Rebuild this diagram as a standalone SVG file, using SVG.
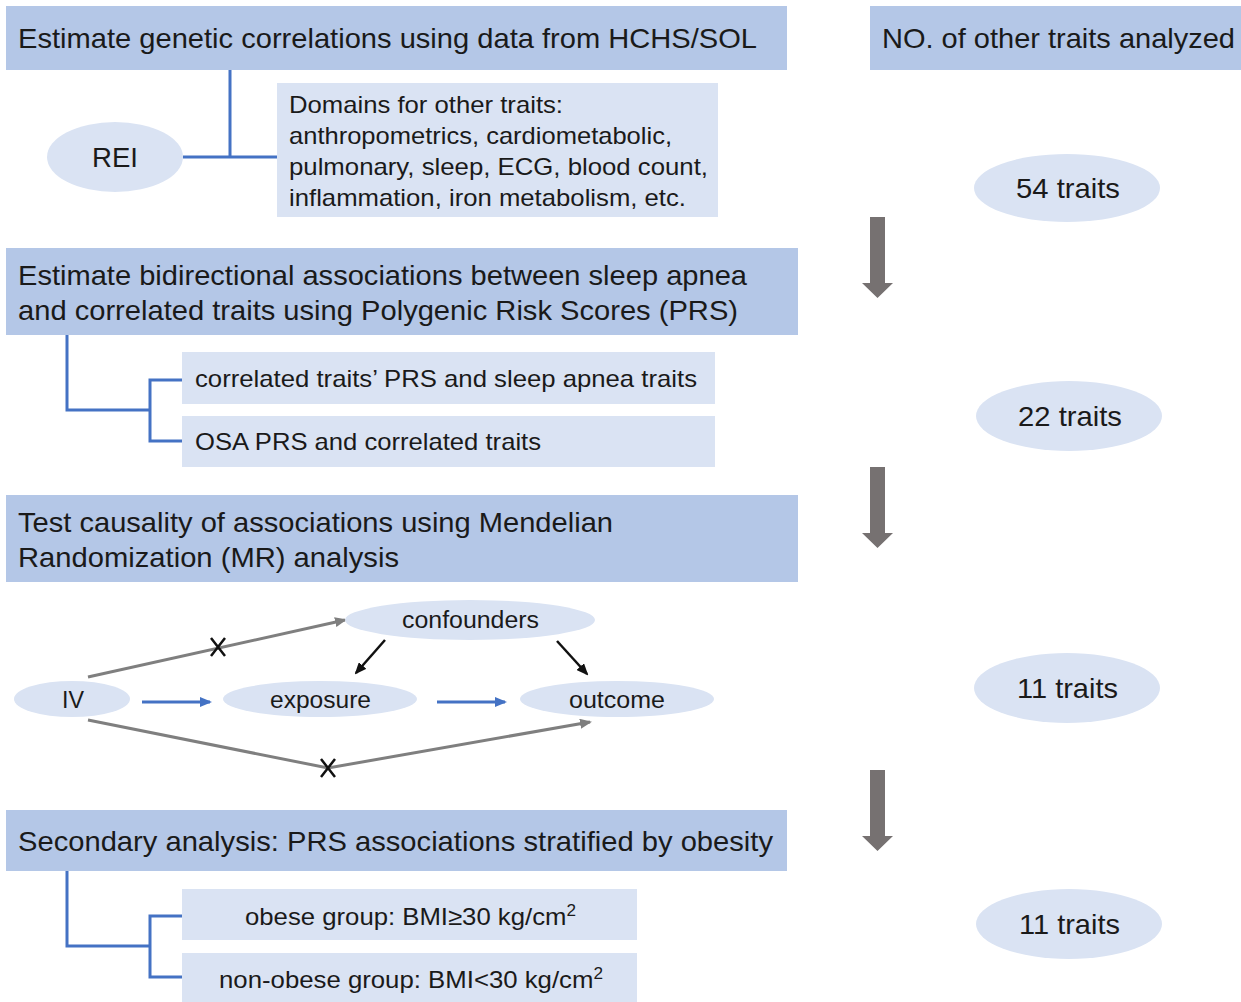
<svg xmlns="http://www.w3.org/2000/svg" width="1241" height="1002" viewBox="0 0 1241 1002">
<defs>
<style>
text{font-family:"Liberation Sans",Arial,sans-serif;fill:#1a1a1a}
.hdr{fill:#b4c7e7}
.sub{fill:#dae3f3}
.h{font-size:28px}
.s{font-size:24px}
.m{font-size:23px}
.blue{stroke:#4472c4;stroke-width:3;fill:none}
.gray{stroke:#7f7f7f;stroke-width:3;fill:none}
.blk{stroke:#111;stroke-width:2.5;fill:none}
.big{fill:#767171}
</style>
<marker id="ab" markerWidth="12" markerHeight="10" refX="10" refY="5" orient="auto" markerUnits="userSpaceOnUse"><path d="M0,0 L12,5 L0,10 z" fill="#4472c4"/></marker>
<marker id="ag" markerWidth="12" markerHeight="10" refX="10" refY="5" orient="auto" markerUnits="userSpaceOnUse"><path d="M0,0 L12,5 L0,10 z" fill="#7f7f7f"/></marker>
<marker id="ak" markerWidth="12" markerHeight="10" refX="10" refY="5" orient="auto" markerUnits="userSpaceOnUse"><path d="M0,0 L12,5 L0,10 z" fill="#111"/></marker>
</defs>
<rect width="1241" height="1002" fill="#fff"/>

<g id="connectors">
<path class="blue" d="M230,70 V157 M183,157 H277"/>
<path class="blue" d="M67,335 V410 H150 M182,380 H150 V441 H182"/>
<path class="blue" d="M67,871 V946 H150 M182,916 H150 V977 H182"/>
<line class="blue" x1="142" y1="702" x2="210" y2="702" marker-end="url(#ab)"/>
<line class="blue" x1="437" y1="702" x2="505" y2="702" marker-end="url(#ab)"/>
<line class="gray" x1="88" y1="677" x2="345" y2="620" marker-end="url(#ag)"/>
<polyline class="gray" points="88,720 328,768 590,722" marker-end="url(#ag)"/>
<line class="blk" x1="385" y1="640" x2="356" y2="673" marker-end="url(#ak)"/>
<line class="blk" x1="557" y1="641" x2="587" y2="674" marker-end="url(#ak)"/>
<path class="blk" d="M211,638 L225,656 M225,638 L211,656"/>
<path class="blk" d="M321,759 L335,777 M335,759 L321,777"/>
<path class="big" d="M870,217 H885 V283 H893 L877.5,298 L862,283 H870 Z"/>
<path class="big" d="M870,467 H885 V533 H893 L877.5,548 L862,533 H870 Z"/>
<path class="big" d="M870,770 H885 V836 H893 L877.5,851 L862,836 H870 Z"/>
</g>

<g id="header1"><rect class="hdr" x="6" y="6" width="781" height="64"/><text class="h" x="18" y="48" textLength="739" lengthAdjust="spacingAndGlyphs">Estimate genetic correlations using data from HCHS/SOL</text></g>
<g id="header-right"><rect class="hdr" x="870" y="6" width="371" height="64"/><text class="h" x="882" y="48" textLength="353" lengthAdjust="spacingAndGlyphs">NO. of other traits analyzed</text></g>
<g id="rei"><ellipse class="sub" cx="115" cy="157" rx="68" ry="35"/><text class="h" x="92" y="167" textLength="46" lengthAdjust="spacingAndGlyphs">REI</text></g>
<g id="domains"><rect class="sub" x="277" y="83" width="441" height="134"/>
<text class="s" x="289" y="113" textLength="274" lengthAdjust="spacingAndGlyphs">Domains for other traits:</text>
<text class="s" x="289" y="144" textLength="383" lengthAdjust="spacingAndGlyphs">anthropometrics, cardiometabolic,</text>
<text class="s" x="289" y="175" textLength="419" lengthAdjust="spacingAndGlyphs">pulmonary, sleep, ECG, blood count,</text>
<text class="s" x="289" y="206" textLength="397" lengthAdjust="spacingAndGlyphs">inflammation, iron metabolism, etc.</text></g>
<g id="n54"><ellipse class="sub" cx="1067" cy="188" rx="93" ry="34"/><text class="h" x="1016" y="198" textLength="104" lengthAdjust="spacingAndGlyphs">54 traits</text></g>

<g id="header2"><rect class="hdr" x="6" y="248" width="792" height="87"/>
<text class="h" x="18" y="285" textLength="729" lengthAdjust="spacingAndGlyphs">Estimate bidirectional associations between sleep apnea</text>
<text class="h" x="18" y="320" textLength="720" lengthAdjust="spacingAndGlyphs">and correlated traits using Polygenic Risk Scores (PRS)</text></g>
<g id="sub2a"><rect class="sub" x="182" y="352" width="533" height="52"/><text class="s" x="195" y="387" textLength="502" lengthAdjust="spacingAndGlyphs">correlated traits’ PRS and sleep apnea traits</text></g>
<g id="sub2b"><rect class="sub" x="182" y="416" width="533" height="51"/><text class="s" x="195" y="450" textLength="346" lengthAdjust="spacingAndGlyphs">OSA PRS and correlated traits</text></g>
<g id="n22"><ellipse class="sub" cx="1069" cy="416" rx="93" ry="35"/><text class="h" x="1018" y="426" textLength="104" lengthAdjust="spacingAndGlyphs">22 traits</text></g>

<g id="header3"><rect class="hdr" x="6" y="495" width="792" height="87"/>
<text class="h" x="18" y="532" textLength="595" lengthAdjust="spacingAndGlyphs">Test causality of associations using Mendelian</text>
<text class="h" x="18" y="567" textLength="381" lengthAdjust="spacingAndGlyphs">Randomization (MR) analysis</text></g>
<g id="confounders"><ellipse class="sub" cx="470" cy="620" rx="125" ry="20"/><text class="m" x="402" y="628" textLength="137" lengthAdjust="spacingAndGlyphs">confounders</text></g>
<g id="iv"><ellipse class="sub" cx="72" cy="699" rx="58" ry="18"/><text class="m" x="62" y="708" textLength="22" lengthAdjust="spacingAndGlyphs">IV</text></g>
<g id="exposure"><ellipse class="sub" cx="320" cy="699" rx="97" ry="18"/><text class="m" x="270" y="708" textLength="101" lengthAdjust="spacingAndGlyphs">exposure</text></g>
<g id="outcome"><ellipse class="sub" cx="617" cy="699" rx="97" ry="18"/><text class="m" x="569" y="708" textLength="96" lengthAdjust="spacingAndGlyphs">outcome</text></g>
<g id="n11a"><ellipse class="sub" cx="1067" cy="688" rx="93" ry="35"/><text class="h" x="1017" y="698" textLength="101" lengthAdjust="spacingAndGlyphs">11 traits</text></g>

<g id="header4"><rect class="hdr" x="6" y="810" width="781" height="61"/>
<text class="h" x="18" y="851" textLength="755" lengthAdjust="spacingAndGlyphs">Secondary analysis: PRS associations stratified by obesity</text></g>
<g id="sub4a"><rect class="sub" x="182" y="889" width="455" height="51"/><text class="s" x="245" y="925" textLength="331" lengthAdjust="spacingAndGlyphs">obese group: BMI≥30 kg/cm<tspan font-size="16" dy="-9">2</tspan></text></g>
<g id="sub4b"><rect class="sub" x="182" y="953" width="455" height="49"/><text class="s" x="219" y="988" textLength="384" lengthAdjust="spacingAndGlyphs">non-obese group: BMI&lt;30 kg/cm<tspan font-size="16" dy="-9">2</tspan></text></g>
<g id="n11b"><ellipse class="sub" cx="1069" cy="924" rx="93" ry="35"/><text class="h" x="1019" y="934" textLength="101" lengthAdjust="spacingAndGlyphs">11 traits</text></g>
</svg>
